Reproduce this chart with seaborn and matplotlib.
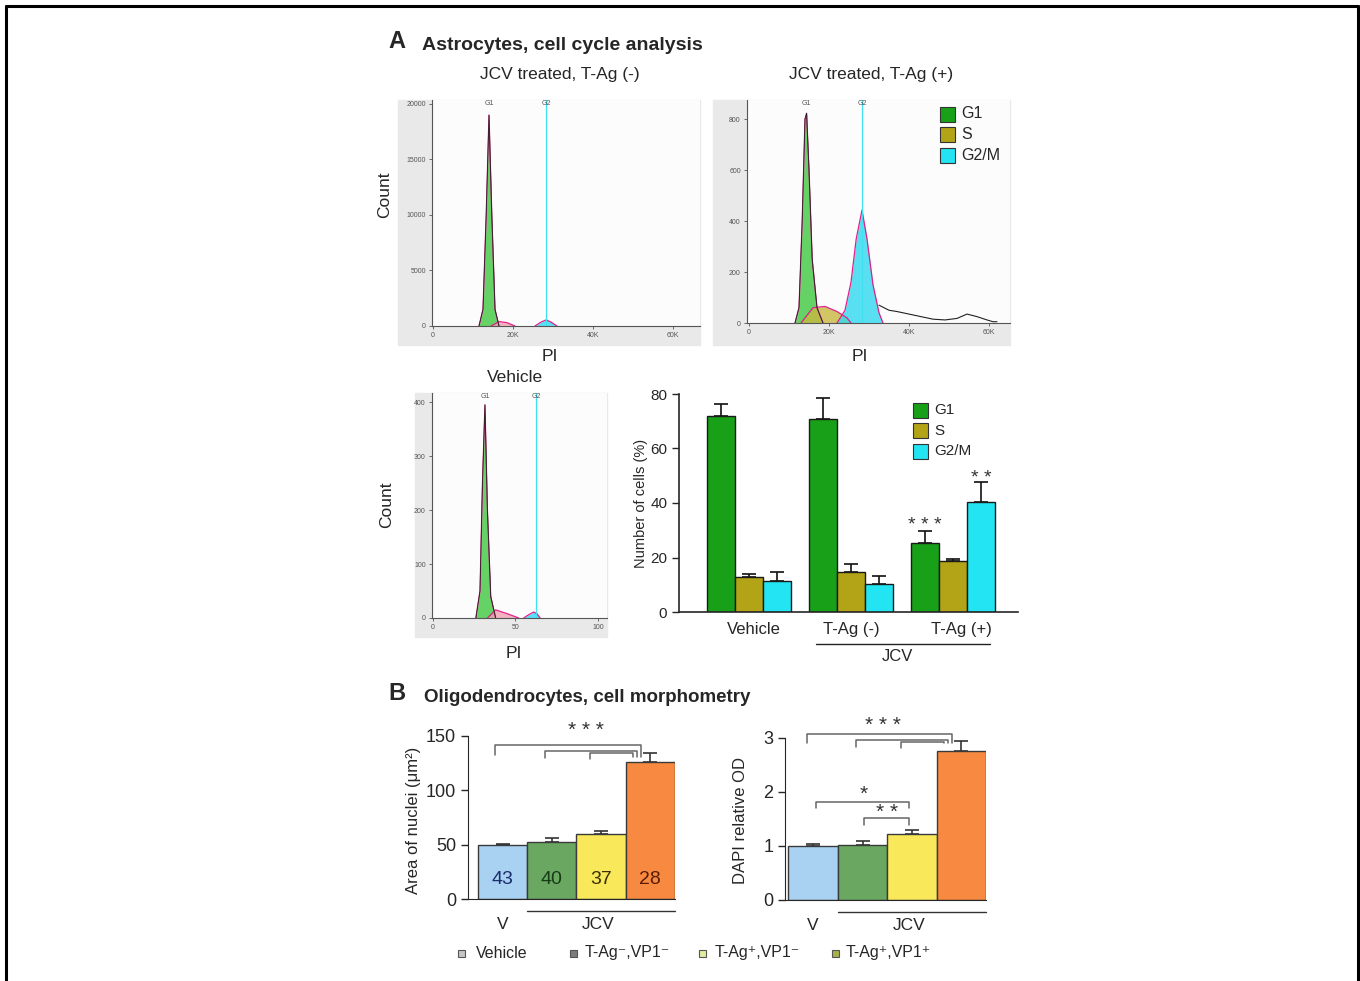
import numpy as np
import pandas as pd
import matplotlib
matplotlib.use("Agg")
import matplotlib.pyplot as plt
import seaborn as sns
from matplotlib.patches import Rectangle
from matplotlib.lines import Line2D

# ---- data ----
# flow histograms (PI signal vs count), sampled by eye
h1_g1_pi = [11500, 12500, 13300, 14000, 14700, 15500, 16500]
h1_g1_n = [0, 1500, 10000, 19000, 10000, 1500, 0]
h1_s_pi = [14500, 16500, 18500, 20500]
h1_s_n = [0, 400, 300, 0]
h1_g2_pi = [25500, 27000, 28300, 29500, 31000]
h1_g2_n = [0, 350, 550, 350, 0]

h2_g1_pi = [11500, 12500, 13300, 14000, 14400, 15000, 15800, 17000, 18500]
h2_g1_n = [0, 60, 400, 800, 823, 600, 250, 60, 0]
h2_s_pi = [13000, 16000, 19000, 22000, 24500, 25500]
h2_s_n = [0, 60, 65, 45, 20, 0]
h2_g2_pi = [22000, 24000, 25500, 26800, 28250, 29500, 31000, 32500, 33500]
h2_g2_n = [0, 50, 160, 330, 443, 330, 150, 40, 0]
h2_tail_pi = [32500, 35000, 37000, 40000, 43000, 46000, 49000, 52000, 54500, 57000, 59500, 61000, 62000]
h2_tail_n = [70, 50, 45, 35, 25, 15, 12, 18, 35, 25, 12, 5, 5]

h3_g1_pi = [26, 28.5, 30, 31.5, 33, 35, 38]
h3_g1_n = [0, 50, 250, 395, 200, 40, 0]
h3_s_pi = [33, 38, 45, 52]
h3_s_n = [0, 15, 8, 0]
h3_g2_pi = [55, 58, 61, 63, 65]
h3_g2_n = [0, 6, 11, 8, 0]

# cell cycle bar chart
groups = ["Vehicle", "T-Ag (-)", "T-Ag (+)"]
phases = ["G1", "S", "G2/M"]
g1_mean = [72.0, 71.0, 25.2]
g1_err = [4.3, 7.4, 4.4]
s_mean = [12.7, 14.5, 18.6]
s_err = [1.2, 3.0, 0.9]
g2m_mean = [11.2, 10.4, 40.3]
g2m_err = [3.3, 2.9, 7.3]

# oligodendrocyte morphometry
conds = ["Vehicle", "T-Ag\u207b,VP1\u207b", "T-Ag\u207a,VP1\u207b", "T-Ag\u207a,VP1\u207a"]
area_mean = [49.3, 52.7, 60.0, 126.4]
area_err = [1.5, 3.0, 2.8, 7.7]
n_cells = [43, 40, 37, 28]
dapi_mean = [1.00, 1.02, 1.22, 2.76]
dapi_err = [0.04, 0.08, 0.07, 0.18]

phase_colors = ["#18a018", "#b2a416", "#22e4f2"]
cond_colors = ["#a9d2f2", "#6aa862", "#f8e85a", "#f78a40"]
num_colors = ["#1c2c6c", "#173a17", "#3a3000", "#5a1c00"]

sns.set_style("ticks")
plt.rcParams["font.family"] = ["Liberation Sans", "DejaVu Sans"]

W, H = 1360, 981
fig = plt.figure(figsize=(W / 100, H / 100), dpi=100)


def add_ax(x0, y0, x1, y1):
    return fig.add_axes([x0 / W, 1 - y1 / H, (x1 - x0) / W, (y1 - y0) / H])


def ftext(x, y, s, **kw):
    return fig.text(x / W, 1 - y / H, s, **kw)


# outer frame
for xs, ys in [((6, 6), (6, 981)), ((6, 1358), (6, 6)), ((1358, 1358), (6, 981))]:
    fig.add_artist(Line2D([x / W for x in xs], [1 - y / H for y in ys], color="black", lw=2.2))


def draw_hist(ax, comps, xlim, ylim, xticks, xlabels, yticks, g1x, g2x, tail=None):
    ax.set_facecolor("#fcfcfc")
    for xs, ns, col in comps:
        ax.fill_between(xs, ns, color=col, alpha=0.8, lw=0)
        sns.lineplot(x=xs, y=ns, ax=ax, color="#e0208a", lw=0.9, sort=False)
    xs, ns, _ = comps[0]
    sns.lineplot(x=xs, y=ns, ax=ax, color="#222222", lw=0.6, sort=False)
    if tail is not None:
        sns.lineplot(x=tail[0], y=tail[1], ax=ax, color="#222222", lw=0.8, sort=False)
    ax.axvline(g2x, color="#3fe0f0", lw=0.9)
    ax.text(g1x, ylim[1], "G1", fontsize=5, ha="center", va="top", color="#555")
    ax.text(g2x, ylim[1], "G2", fontsize=5, ha="center", va="top", color="#555")
    ax.set_xlim(*xlim)
    ax.set_ylim(*ylim)
    ax.set_xticks(xticks)
    ax.set_xticklabels(xlabels)
    ax.set_yticks(yticks)
    ax.tick_params(labelsize=5, length=2.5, width=0.6, colors="#555", pad=2)
    for sp in ["top", "right"]:
        ax.spines[sp].set_visible(False)
    for sp in ["left", "bottom"]:
        ax.spines[sp].set_color("#555")
        ax.spines[sp].set_linewidth(0.8)
    ax.set_xlabel("")
    ax.set_ylabel("")


# ---- panel A titles ----
ftext(388, 42, "A", fontsize=17, fontweight="bold", va="center")
ftext(422, 45, "Astrocytes, cell cycle analysis", fontsize=14, fontweight="bold", va="center")
ftext(560, 75, "JCV treated, T-Ag (-)", fontsize=12.5, ha="center", va="center")
ftext(871, 75, "JCV treated, T-Ag (+)", fontsize=12.5, ha="center", va="center")

# histogram 1
fig.add_artist(Rectangle((398 / W, 1 - 345 / H), 302 / W, 245 / H, color="#e9e9e9", zorder=0))
ax1 = add_ax(432, 100, 700, 326)
draw_hist(ax1, [(h1_g1_pi, h1_g1_n, "#3ec83e"), (h1_s_pi, h1_s_n, "#f0a0b0"),
                (h1_g2_pi, h1_g2_n, "#30d8f0")],
          (-250, 66750), (0, 20360), [0, 20000, 40000, 60000], ["0", "20K", "40K", "60K"],
          [0, 5000, 10000, 15000, 20000], 14000, 28300)
ftext(385, 195, "Count", fontsize=12.5, rotation=90, ha="center", va="center")
ftext(550, 356, "PI", fontsize=12.5, ha="center", va="center")

# histogram 2
fig.add_artist(Rectangle((713 / W, 1 - 345 / H), 297 / W, 245 / H, color="#e9e9e9", zorder=0))
ax2 = add_ax(747, 100, 1010, 323)
draw_hist(ax2, [(h2_g1_pi, h2_g1_n, "#3ec83e"), (h2_s_pi, h2_s_n, "#c8b840"),
                (h2_g2_pi, h2_g2_n, "#30d8f0")],
          (-500, 65250), (0, 875), [0, 20000, 40000, 60000], ["0", "20K", "40K", "60K"],
          [0, 200, 400, 600, 800], 14300, 28250, tail=(h2_tail_pi, h2_tail_n))
ftext(860, 356, "PI", fontsize=12.5, ha="center", va="center")


def manual_legend(x, y0, step, labels, colors, size, fs):
    for i, (lab, col) in enumerate(zip(labels, colors)):
        yy = y0 + i * step
        fig.add_artist(Rectangle((x / W, 1 - (yy + size / 2) / H), size / W, size / H,
                                 facecolor=col, edgecolor="#333", lw=0.8))
        ftext(x + size + 6, yy, lab, fontsize=fs, va="center")


manual_legend(940, 114, 20.5, phases, phase_colors, 15, 11.5)

# histogram 3 (vehicle)
fig.add_artist(Rectangle((415 / W, 1 - 637 / H), 192 / W, 244 / H, color="#e9e9e9", zorder=0))
ax3 = add_ax(432, 393, 607, 618)
draw_hist(ax3, [(h3_g1_pi, h3_g1_n, "#3ec83e"), (h3_s_pi, h3_s_n, "#f0a0b0"),
                (h3_g2_pi, h3_g2_n, "#30d8f0")],
          (-0.6, 105.5), (0, 417), [0, 50, 100], ["0", "50", "100"],
          [0, 100, 200, 300, 400], 31.5, 62.4)
ftext(515, 377, "Vehicle", fontsize=12.5, ha="center", va="center")
ftext(387, 505, "Count", fontsize=12.5, rotation=90, ha="center", va="center")
ftext(514, 653, "PI", fontsize=12.5, ha="center", va="center")

# ---- cell cycle bar chart ----
cc = pd.DataFrame({
    "group": groups * 3,
    "phase": [p for p in phases for _ in groups],
    "value": g1_mean + s_mean + g2m_mean,
    "err": g1_err + s_err + g2m_err,
})
ax4 = add_ax(679, 394, 1018, 612)
sns.barplot(data=cc, x="group", y="value", hue="phase", order=groups, hue_order=phases,
            palette=phase_colors, saturation=1, width=0.82, edgecolor="#1a1a1a",
            linewidth=1.0, errorbar=None, legend=False, ax=ax4)
for cont, ph in zip(ax4.containers, phases):
    sub = cc[cc["phase"] == ph].set_index("group").loc[groups]
    xs = [b.get_x() + b.get_width() / 2 for b in cont]
    ax4.errorbar(xs, sub["value"], yerr=[np.zeros(len(xs)), sub["err"]], fmt="none",
                 ecolor="#111", elinewidth=1.2, capsize=5, capthick=1.2, zorder=1)
    for b in cont:
        b.set_zorder(2)
b_g1 = ax4.containers[0][2]
b_g2 = ax4.containers[2][2]
ax4.text(b_g1.get_x() + b_g1.get_width() / 2, 31.8, "* * *", ha="center", va="center",
         fontsize=14, color="#333")
ax4.text(b_g2.get_x() + b_g2.get_width() / 2, 49.0, "* *", ha="center", va="center",
         fontsize=14, color="#333")
ax4.set_xlim(-0.686, 2.637)
ax4.set_ylim(0, 80)
ax4.set_yticks([0, 20, 40, 60, 80])
ax4.set_xticks([0.05, 1.0, 2.08])
ax4.set_xticklabels(groups)
ax4.tick_params(axis="x", length=0, labelsize=12, pad=7)
ax4.tick_params(axis="y", labelsize=11, length=5, width=1)
ax4.set_xlabel("")
ax4.set_ylabel("")
sns.despine(ax=ax4)
for sp in ["left", "bottom"]:
    ax4.spines[sp].set_linewidth(1.2)
tr = ax4.get_xaxis_transform()
ax4.plot([0.66, 2.36], [-0.147, -0.147], color="#222", lw=1, transform=tr, clip_on=False)
ax4.text(1.46, -0.206, "JCV", transform=tr, ha="center", va="center", fontsize=12)
ftext(641, 503, "Number of cells (%)", fontsize=10.5, rotation=90, ha="center", va="center")
manual_legend(913, 410, 20.5, phases, phase_colors, 15, 11)

# ---- panel B ----
ftext(397, 693, "B", fontsize=17, fontweight="bold", va="center", ha="center")
ftext(424, 697, "Oligodendrocytes, cell morphometry", fontsize=13.5, fontweight="bold", va="center")

morph = pd.DataFrame({"cond": conds, "area": area_mean, "area_err": area_err,
                      "dapi": dapi_mean, "dapi_err": dapi_err})


def bracket(ax, x0, x1, y, drop_l, drop_r):
    ax.plot([x0, x0, x1, x1], [drop_l, y, y, drop_r], color="#666", lw=1.1, clip_on=False)


def morph_bars(ax, col, errcol, xlim, ylim, yticks):
    sns.barplot(data=morph, x="cond", y=col, hue="cond", palette=cond_colors, saturation=1,
                width=1.0, edgecolor="#3a3a3a", linewidth=1.0, errorbar=None, legend=False, ax=ax)
    ax.errorbar(range(4), morph[col], yerr=[np.zeros(4), morph[errcol]], fmt="none",
                ecolor="#333", elinewidth=1.2, capsize=5, capthick=1.2, zorder=1)
    for p in ax.patches:
        p.set_zorder(2)
    ax.set_xlim(*xlim)
    ax.set_ylim(*ylim)
    ax.set_yticks(yticks)
    ax.set_xticks([])
    ax.set_xlabel("")
    ax.set_ylabel("")
    ax.tick_params(axis="y", labelsize=13, length=5, width=1)
    sns.despine(ax=ax)
    tr = ax.get_xaxis_transform()
    ax.plot([0.5, 3.5], [-0.074, -0.074], color="#333", lw=1, transform=tr, clip_on=False)
    ax.text(0, -0.156, "V", transform=tr, ha="center", va="center", fontsize=12.5)
    ax.text(1.95, -0.156, "JCV", transform=tr, ha="center", va="center", fontsize=12.5)


ax5 = add_ax(468, 736, 675, 899)
morph_bars(ax5, "area", "area_err", (-0.70, 3.5), (0, 150), [0, 50, 100, 150])
for i, n in enumerate(n_cells):
    ax5.text(i, 17.5, str(n), ha="center", va="center", fontsize=14, color=num_colors[i])
bracket(ax5, -0.15, 2.80, 141.7, 132.5, 131)
bracket(ax5, 0.86, 2.73, 136.2, 129.8, 131)
bracket(ax5, 1.78, 2.65, 134.4, 128.8, 131)
ax5.text(1.70, 155, "* * *", ha="center", va="center", fontsize=15, color="#333")
ftext(414, 820, "Area of nuclei (\u03bcm\u00b2)", fontsize=12, rotation=90, ha="center", va="center")

ax6 = add_ax(785, 738, 986, 900)
morph_bars(ax6, "dapi", "dapi_err", (-0.57, 3.5), (0, 3), [0, 1, 2, 3])
bracket(ax6, -0.12, 2.81, 3.07, 2.91, 2.90)
bracket(ax6, 0.87, 2.73, 2.96, 2.83, 2.90)
bracket(ax6, 1.78, 2.65, 2.93, 2.81, 2.90)
ax6.text(1.41, 3.23, "* * *", ha="center", va="center", fontsize=15, color="#333")
bracket(ax6, 0.06, 1.94, 1.81, 1.70, 1.70)
ax6.text(1.03, 1.96, "*", ha="center", va="center", fontsize=15, color="#333")
bracket(ax6, 1.03, 1.94, 1.52, 1.39, 1.39)
ax6.text(1.49, 1.62, "* *", ha="center", va="center", fontsize=15, color="#333")
ftext(741, 820, "DAPI relative OD", fontsize=12, rotation=90, ha="center", va="center")

# bottom legend
leg_cols = ["#c6c6c6", "#7c7c7c", "#e4eca0", "#a8b04c"]
for xq, xt, lab, col in zip([461, 573, 703, 835], [476, 585, 715, 846], conds, leg_cols):
    fig.add_artist(Rectangle(((xq - 3.5) / W, 1 - 956.5 / H), 7 / W, 7 / H,
                             facecolor=col, edgecolor="#555", lw=0.8))
    ftext(xt, 953, lab, fontsize=11.5, va="center")

fig.savefig("out.png", dpi=100)
